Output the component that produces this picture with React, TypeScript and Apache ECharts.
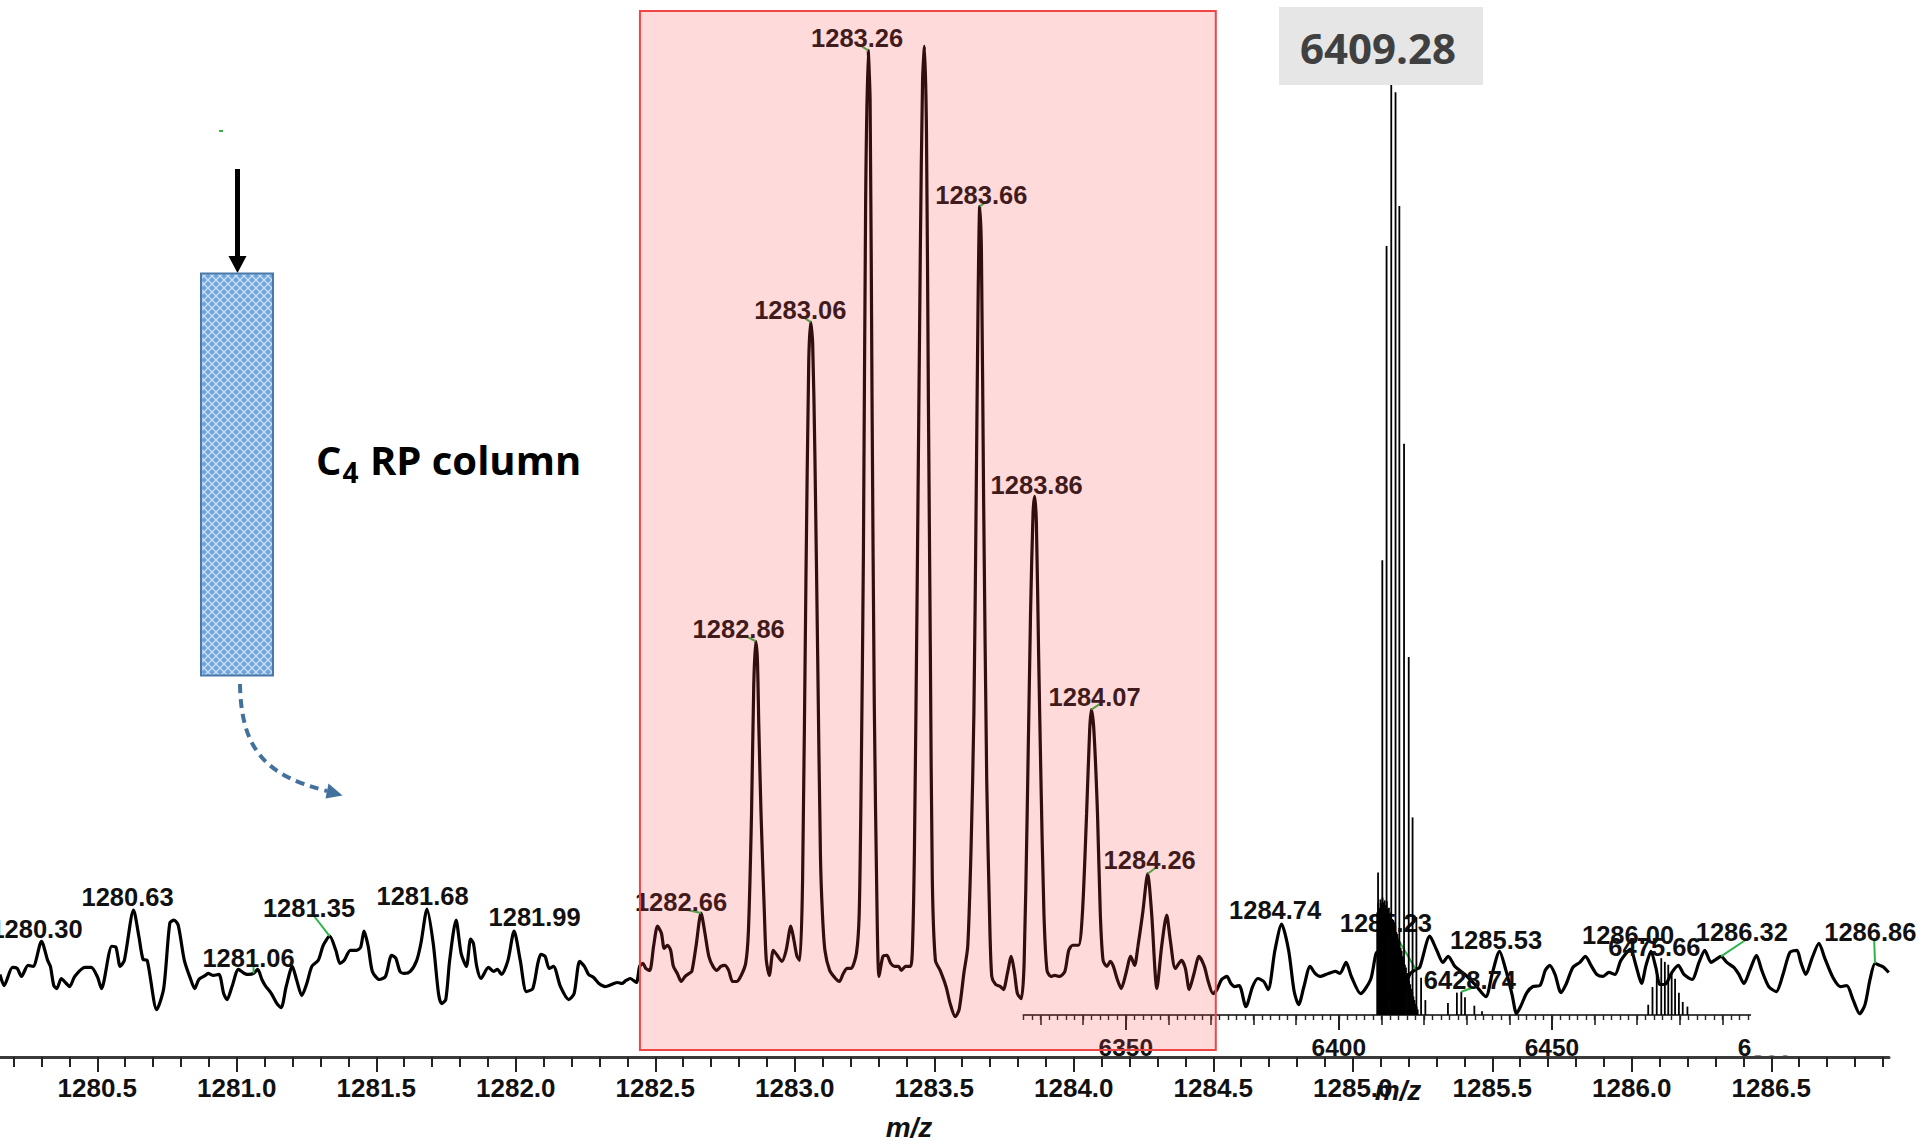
import React, { useEffect, useRef } from 'react';
import * as echarts from 'echarts';

// ---------- Main profile spectrum: [m/z, relative intensity %] ----------
const profileLeft: [number, number][] = [
  [1280.151, 8.2], [1280.166, 7.1], [1280.196, 8.9], [1280.213, 8.8], [1280.228, 8.0], [1280.252, 9.1], [1280.270, 9.0],
  [1280.300, 11.5], [1280.322, 9.6], [1280.332, 9.0], [1280.344, 7.1], [1280.355, 6.8], [1280.371, 7.8], [1280.389, 7.3],
  [1280.401, 7.0], [1280.419, 8.0], [1280.456, 8.9], [1280.478, 8.9], [1280.500, 8.0], [1280.515, 6.8], [1280.552, 11.0],
  [1280.567, 10.9], [1280.582, 9.0], [1280.597, 9.6], [1280.630, 14.6], [1280.649, 12.0], [1280.664, 9.7], [1280.679, 9.6],
  [1280.713, 4.7], [1280.738, 6.8], [1280.760, 13.3], [1280.775, 13.6], [1280.790, 13.1], [1280.812, 9.6], [1280.835, 7.7],
  [1280.849, 6.8], [1280.864, 7.7], [1280.887, 8.1], [1280.897, 8.3], [1280.916, 8.1], [1280.936, 8.2], [1280.953, 6.3],
  [1280.965, 5.7], [1280.983, 7.0], [1281.006, 8.7], [1281.028, 8.3], [1281.043, 8.2], [1281.060, 8.3], [1281.075, 8.7],
  [1281.090, 7.7], [1281.102, 7.1], [1281.124, 6.3], [1281.144, 5.3], [1281.159, 4.9], [1281.177, 7.0], [1281.199, 9.0],
  [1281.214, 7.7], [1281.233, 6.1], [1281.251, 7.3], [1281.269, 9.0], [1281.292, 9.6], [1281.310, 11.1], [1281.333, 12.0],
  [1281.355, 10.6], [1281.370, 9.3], [1281.385, 9.6], [1281.407, 10.6], [1281.429, 10.6], [1281.444, 10.9], [1281.456, 12.5],
  [1281.471, 11.0], [1281.486, 8.5], [1281.511, 7.7], [1281.533, 8.0], [1281.555, 10.1], [1281.570, 9.8], [1281.585, 8.5],
  [1281.600, 8.3], [1281.622, 8.5], [1281.645, 9.6], [1281.660, 11.3], [1281.682, 14.7], [1281.704, 11.3], [1281.723, 6.3],
  [1281.734, 5.3], [1281.749, 5.7], [1281.763, 9.6], [1281.786, 13.6], [1281.804, 10.3], [1281.823, 9.0], [1281.838, 11.7],
  [1281.848, 11.3], [1281.860, 9.0], [1281.875, 7.8], [1281.902, 8.9], [1281.920, 8.5], [1281.934, 8.7], [1281.949, 8.2],
  [1281.972, 9.6], [1281.994, 12.5], [1282.016, 9.6], [1282.038, 6.5], [1282.061, 6.8], [1282.079, 9.3], [1282.090, 10.2],
  [1282.105, 10.0], [1282.120, 8.8], [1282.135, 9.0], [1282.160, 7.0], [1282.190, 5.7], [1282.209, 6.3], [1282.229, 9.5],
  [1282.246, 9.0], [1282.261, 8.2], [1282.279, 7.9], [1282.298, 7.3], [1282.321, 7.0], [1282.343, 7.2], [1282.365, 7.4],
  [1282.380, 7.3], [1282.395, 7.6], [1282.410, 7.8], [1282.432, 7.4],
];

const profileCluster: [number, number][] = [
  [1282.444, 9.0], [1282.456, 9.3], [1282.466, 8.8], [1282.480, 8.6], [1282.494, 11.0], [1282.508, 13.0], [1282.522, 12.3],
  [1282.532, 10.8], [1282.544, 11.1], [1282.555, 10.6], [1282.565, 9.0], [1282.579, 8.3], [1282.593, 7.5], [1282.607, 8.0],
  [1282.621, 8.3], [1282.631, 8.5], [1282.646, 11.0], [1282.664, 14.3], [1282.678, 12.3], [1282.692, 10.0], [1282.707, 9.0],
  [1282.721, 8.6], [1282.735, 9.0], [1282.749, 9.1], [1282.763, 8.6], [1282.777, 7.5], [1282.791, 7.5], [1282.806, 8.0],
  [1282.824, 9.3], [1282.834, 12.6], [1282.845, 24.2], [1282.853, 37.0], [1282.860, 41.3], [1282.866, 39.5], [1282.871, 33.0],
  [1282.879, 24.2], [1282.891, 14.3], [1282.898, 9.6], [1282.909, 8.1], [1282.923, 10.6], [1282.937, 10.1], [1282.954, 9.5],
  [1282.969, 10.6], [1282.986, 13.0], [1282.997, 11.6], [1283.008, 10.0], [1283.018, 9.6], [1283.028, 17.6], [1283.040, 47.4],
  [1283.050, 69.0], [1283.057, 73.0], [1283.064, 71.0], [1283.072, 60.0], [1283.082, 40.0], [1283.092, 20.0], [1283.099, 14.3],
  [1283.108, 10.6], [1283.125, 8.6], [1283.146, 7.8], [1283.160, 7.5], [1283.174, 8.3], [1283.188, 8.8], [1283.202, 8.8],
  [1283.221, 10.3], [1283.231, 14.3], [1283.238, 27.5], [1283.246, 50.0], [1283.254, 85.0], [1283.263, 100.0], [1283.270, 95.0],
  [1283.277, 65.0], [1283.285, 35.0], [1283.295, 14.3], [1283.302, 8.0], [1283.316, 10.0], [1283.330, 10.1], [1283.344, 9.3],
  [1283.358, 9.0], [1283.372, 9.0], [1283.382, 8.6], [1283.397, 9.0], [1283.415, 9.0], [1283.422, 11.0], [1283.429, 20.9],
  [1283.439, 47.4], [1283.450, 80.0], [1283.458, 97.0], [1283.465, 100.4], [1283.472, 92.0], [1283.479, 65.0], [1283.486, 40.0],
  [1283.493, 17.6], [1283.504, 9.6], [1283.521, 8.6], [1283.542, 7.0], [1283.557, 5.3], [1283.575, 4.0], [1283.589, 4.7],
  [1283.606, 8.3], [1283.620, 11.0], [1283.632, 20.9], [1283.642, 34.1], [1283.650, 55.0], [1283.657, 75.0], [1283.663, 84.5],
  [1283.669, 80.0], [1283.677, 55.0], [1283.688, 27.5], [1283.698, 14.3], [1283.706, 8.0], [1283.720, 7.2], [1283.737, 7.0],
  [1283.748, 6.7], [1283.762, 8.3], [1283.776, 10.0], [1283.788, 8.3], [1283.798, 6.3], [1283.812, 5.8], [1283.822, 9.3],
  [1283.833, 24.2], [1283.845, 44.0], [1283.854, 54.0], [1283.860, 55.7], [1283.866, 53.0], [1283.874, 40.0], [1283.882, 28.0],
  [1283.893, 14.3], [1283.904, 8.6], [1283.918, 8.0], [1283.932, 8.1], [1283.949, 8.0], [1283.968, 8.5], [1283.982, 10.6],
  [1283.996, 11.1], [1284.017, 11.1], [1284.031, 14.3], [1284.046, 24.2], [1284.057, 32.5], [1284.063, 34.5], [1284.072, 32.5],
  [1284.085, 24.2], [1284.095, 14.3], [1284.105, 9.6], [1284.119, 9.0], [1284.131, 9.5], [1284.142, 9.0], [1284.156, 7.7],
  [1284.170, 6.8], [1284.187, 8.3], [1284.204, 10.0], [1284.218, 9.1], [1284.230, 11.0], [1284.247, 14.3], [1284.265, 18.2],
  [1284.279, 14.3], [1284.298, 6.8], [1284.315, 11.0], [1284.333, 14.1], [1284.346, 11.6], [1284.364, 8.8], [1284.386, 9.6],
  [1284.400, 8.8], [1284.414, 6.7], [1284.431, 8.3], [1284.449, 10.0], [1284.468, 9.0], [1284.482, 7.5], [1284.499, 6.3],
  [1284.513, 6.7], [1284.530, 7.7], [1284.549, 8.0], [1284.563, 7.3], [1284.577, 7.0],
];

const profileRight: [number, number][] = [
  [1284.593, 7.1], [1284.617, 5.0], [1284.641, 7.0], [1284.660, 7.8], [1284.681, 7.5], [1284.697, 6.7], [1284.721, 10.6],
  [1284.745, 13.2], [1284.770, 10.6], [1284.790, 6.5], [1284.806, 5.2], [1284.825, 7.0], [1284.847, 9.0], [1284.865, 8.3],
  [1284.883, 8.0], [1284.913, 8.3], [1284.938, 8.5], [1284.954, 8.3], [1284.976, 9.4], [1284.995, 8.0], [1285.028, 6.3],
  [1285.064, 7.7], [1285.086, 10.4], [1285.097, 9.6], [1285.119, 6.7], [1285.151, 5.4], [1285.179, 6.2], [1285.204, 8.2],
  [1285.226, 8.7], [1285.240, 8.9], [1285.276, 12.0], [1285.301, 10.6], [1285.323, 9.4], [1285.342, 10.0], [1285.366, 9.0],
  [1285.402, 8.2], [1285.438, 7.2], [1285.477, 6.0], [1285.499, 8.2], [1285.526, 10.5], [1285.549, 8.6], [1285.571, 6.2],
  [1285.587, 4.3], [1285.603, 5.1], [1285.624, 6.4], [1285.646, 7.0], [1285.671, 7.1], [1285.690, 8.6], [1285.706, 9.1],
  [1285.725, 8.2], [1285.746, 6.4], [1285.764, 7.2], [1285.789, 8.9], [1285.814, 9.4], [1285.834, 10.0], [1285.854, 9.1],
  [1285.875, 8.2], [1285.897, 8.0], [1285.918, 8.4], [1285.940, 8.2], [1285.961, 9.6], [1285.995, 10.7], [1286.015, 9.1],
  [1286.035, 7.3], [1286.051, 9.1], [1286.069, 10.5], [1286.087, 8.8], [1286.101, 7.2], [1286.123, 7.3], [1286.144, 8.4],
  [1286.167, 9.1], [1286.187, 8.2], [1286.216, 7.7], [1286.241, 9.4], [1286.262, 10.6], [1286.284, 9.4], [1286.302, 9.7],
  [1286.320, 10.0], [1286.341, 9.4], [1286.366, 8.9], [1286.384, 8.2], [1286.402, 7.3], [1286.423, 8.6], [1286.447, 10.1],
  [1286.466, 8.6], [1286.491, 7.0], [1286.518, 6.5], [1286.542, 8.2], [1286.567, 10.4], [1286.592, 10.6], [1286.606, 9.4],
  [1286.624, 8.2], [1286.646, 9.8], [1286.671, 11.3], [1286.692, 9.8], [1286.721, 7.9], [1286.748, 7.0], [1286.771, 7.1],
  [1286.793, 5.7], [1286.817, 4.3], [1286.836, 5.2], [1286.854, 7.7], [1286.872, 9.3], [1286.889, 9.1], [1286.904, 8.9],
  [1286.921, 8.4],
];

// ---------- Inset (deconvoluted) stick spectrum: [mass, relative intensity %] ----------
const isotopeSticks: [number, number][] = [
  [6409.2, 15.3], [6410.2, 48.8], [6411.2, 82.5], [6412.3, 100.0], [6413.3, 99.0], [6414.2, 86.8],
  [6415.3, 61.3], [6416.4, 38.4], [6417.3, 21.2], [6418.2, 10.5], [6419.3, 4.0], [6420.3, 1.6],
];
const isotopeFill: [number, number][] = [
  [6409.0, 11.0], [6409.25, 12.0], [6409.5, 11.5], [6409.75, 12.4], [6410.0, 12.0], [6410.25, 12.6], [6410.5, 12.1],
  [6410.75, 12.3], [6411.0, 11.8], [6411.25, 12.2], [6411.5, 11.4], [6411.75, 11.5], [6412.0, 10.9], [6412.25, 11.0],
  [6412.5, 10.3], [6412.75, 10.2], [6413.0, 9.6], [6413.25, 9.6], [6413.5, 8.9], [6413.75, 8.7], [6414.0, 8.1],
  [6414.25, 7.9], [6414.5, 7.2], [6414.75, 6.9], [6415.0, 6.3], [6415.25, 6.0], [6415.5, 5.4], [6415.75, 5.1],
  [6416.0, 4.5], [6416.25, 4.2], [6416.5, 3.7], [6416.75, 3.3], [6417.0, 2.8], [6417.25, 2.5], [6417.5, 2.0],
  [6417.75, 1.6], [6418.0, 1.2], [6418.25, 0.9], [6418.5, 0.6],
];
const satelliteSticks: [number, number][] = [
  [6425.6, 1.3], [6427.7, 2.4], [6428.74, 2.5], [6429.6, 1.9], [6431.8, 1.0], [6433.6, 0.4],
];
const adductSticks: [number, number][] = [
  [6472.6, 1.1], [6473.6, 3.0], [6474.6, 4.2], [6475.66, 6.1], [6476.5, 5.7], [6477.3, 5.4],
  [6478.1, 4.5], [6478.9, 3.9], [6479.8, 2.4], [6480.7, 1.4], [6481.8, 0.9],
];

// ---------- Axis ticks ----------
const mainTickLabels = [1280.5, 1281.0, 1281.5, 1282.0, 1282.5, 1283.0, 1283.5, 1284.0, 1284.5, 1285.0, 1285.5, 1286.0, 1286.5];
const insetTickLabels = [6350, 6400, 6450, 6500];

// ---------- Peak annotations ----------
const peakText = ['1280.30', '1280.63', '1281.06', '1281.35', '1281.68', '1281.99', '1282.66', '1282.86', '1283.06', '1283.26',
  '1283.66', '1283.86', '1284.07', '1284.26', '1284.74', '1285.23', '1285.53', '1286.00', '1286.32', '1286.86'];
const peakMz = [1280.300, 1280.630, 1281.060, 1281.333, 1281.682, 1281.994, 1282.664, 1282.860, 1283.057, 1283.263,
  1283.663, 1283.860, 1284.063, 1284.265, 1284.745, 1285.226, 1285.526, 1285.995, 1286.320, 1286.872];
const peakIntensity = [11.5, 14.6, 8.3, 12.0, 14.7, 12.5, 14.3, 41.3, 73.0, 100.0,
  84.5, 55.7, 34.5, 18.2, 13.2, 8.7, 10.5, 10.7, 10.0, 9.3];

const insetText = ['6428.74', '6475.66'];
const insetMz = [6428.74, 6475.66];
const insetIntensity = [2.5, 6.1];

const deconvolutedMass = '6409.28';
const columnCaption = ['C', '4', ' RP column'];

// label layout, px: [dx, dy, leaderDx, leaderDy] (null leader = none)
const peakLabelLayout: [number, number, number | null, number | null][] = [
  [-5, -12, null, null], [-6, -13, null, null], [-5, -15, 0, -8], [-20.7, -28.6, -15.7, -20.2],
  [-4.5, -13, null, null], [20.5, -13.7, null, null], [-20, -11, -16, -3.5], [-17, -12.7, -11, -5.7],
  [-10.4, -12.3, -5.6, -3.7], [-11, -12, -6.3, -4], [1.6, -11.7, 7.2, -5], [2, -11, null, null],
  [3.3, -13, 9, -6], [2, -14, 8, -6], [-6.5, -14, null, null], [-30, -46.7, -18.5, -31.4],
  [-3.5, -11.7, null, null], [-2.3, -14.3, null, null], [20.8, -24.6, 24.5, -16.3], [-4.7, -31.7, -1, -25.4],
];
const insetLabelLayout: [number, number, number | null, number | null][] = [
  [8.6, -11.7, 14, -5], [-6.8, -11.4, null, null],
];

const LABEL_FONT = 'bold 25.5px "Liberation Sans", Arial, sans-serif';
const LEADER = '#2DB54A';

function labelRenderer(texts: string[], layout: [number, number, number | null, number | null][]) {
  return (_params: any, api: any) => {
    const i = api.value(2);
    const p = api.coord([api.value(0), api.value(1)]);
    const [dx, dy, lx, ly] = layout[i];
    const children: any[] = [];
    if (lx !== null && ly !== null) {
      children.push({
        type: 'line',
        shape: { x1: p[0], y1: p[1], x2: p[0] + lx, y2: p[1] + ly },
        style: { stroke: LEADER, lineWidth: 2 },
      });
    }
    children.push({
      type: 'text',
      x: p[0] + dx,
      y: p[1] + dy,
      style: {
        text: texts[i], fill: '#111', font: LABEL_FONT,
        align: 'center', verticalAlign: 'middle', textAlign: 'center', textVerticalAlign: 'middle',
      },
    });
    return { type: 'group', children };
  };
}

export default function App() {
  const ref = useRef<HTMLDivElement>(null);
  useEffect(() => {
    if (!ref.current) return;
    const chart = echarts.init(ref.current, null, { renderer: 'svg' });

    const mainMinor: number[] = [];
    for (let k = 12802; k <= 12869; k++) mainMinor.push(k / 10);
    const insetMid: number[] = [];
    for (let v = 6330; v <= 6510; v += 10) insetMid.push(v);
    const insetMinor: number[] = [];
    for (let v = 6326; v <= 6510; v += 2) insetMinor.push(v);

    const ctx = document.createElement('canvas').getContext('2d')!;
    const capFont = 'bold 40px "Open Sans", sans-serif';
    const subFont = 'bold 28px "Open Sans", sans-serif';
    ctx.font = capFont;
    const wC = ctx.measureText(columnCaption[0]).width;
    ctx.font = subFont;
    const w4 = ctx.measureText(columnCaption[1]).width;
    const capX = 316;

    const tile = '<svg xmlns="http://www.w3.org/2000/svg" width="8" height="8"><rect width="8" height="8" fill="#6FA5DF"/><path d="M0 0L8 8M8 0L0 8" stroke="#ffffff" stroke-width="1.3" stroke-opacity="0.65"/></svg>';
    const patternUrl = 'data:image/svg+xml;charset=utf-8,' + encodeURIComponent(tile);

    const tickFont = { fontFamily: '"Liberation Sans", Arial, sans-serif', fontWeight: 'bold' as const, color: '#111' };

    const option: any = {
      animation: false,
      backgroundColor: '#ffffff',
      grid: [
        { left: 0, right: 31, top: 0, bottom: 84, containLabel: false, outerBoundsMode: 'none' },
        { left: 1023.5, right: 112.4, top: 83, bottom: 126, containLabel: false, outerBoundsMode: 'none' },
      ],
      xAxis: [
        {
          gridIndex: 0, type: 'value', min: 1280.1513, max: 1286.922, position: 'bottom',
          axisLine: { show: true, onZero: false, lineStyle: { color: '#3a3a3a', width: 3 } },
          axisTick: { show: true, customValues: mainTickLabels, length: 15, lineStyle: { color: '#222', width: 2 } },
          axisLabel: { show: true, customValues: mainTickLabels, formatter: (v: number) => v.toFixed(1), fontSize: 26, margin: 18, ...tickFont },
          splitLine: { show: false },
        },
        {
          gridIndex: 0, type: 'value', min: 1280.1513, max: 1286.922, position: 'bottom',
          axisLine: { show: false, onZero: false },
          axisTick: { show: true, customValues: mainMinor, length: 10, lineStyle: { color: '#222', width: 2 } },
          axisLabel: { show: false },
          splitLine: { show: false },
        },
        {
          gridIndex: 1, type: 'value', min: 6326, max: 6510, position: 'bottom',
          axisLine: { show: true, onZero: false, lineStyle: { color: '#444', width: 2 } },
          axisTick: { show: true, customValues: insetTickLabels, length: 15, lineStyle: { color: '#222', width: 2 } },
          axisLabel: { show: true, customValues: insetTickLabels, formatter: (v: number) => String(v), fontSize: 24.5, margin: 20, ...tickFont },
          splitLine: { show: false },
        },
        {
          gridIndex: 1, type: 'value', min: 6326, max: 6510, position: 'bottom',
          axisLine: { show: false, onZero: false },
          axisTick: { show: true, customValues: insetMid, length: 10, lineStyle: { color: '#222', width: 1.6 } },
          axisLabel: { show: false },
          splitLine: { show: false },
        },
        {
          gridIndex: 1, type: 'value', min: 6326, max: 6510, position: 'bottom',
          axisLine: { show: false, onZero: false },
          axisTick: { show: true, customValues: insetMinor, length: 5, lineStyle: { color: '#222', width: 1.4 } },
          axisLabel: { show: false },
          splitLine: { show: false },
        },
      ],
      yAxis: [
        { gridIndex: 0, type: 'value', min: 0, max: 105, show: false, splitLine: { show: false } },
        { gridIndex: 1, type: 'value', min: 0, max: 100, show: false, splitLine: { show: false } },
      ],
      series: [
        {
          name: 'deconvoluted', type: 'bar', xAxisIndex: 2, yAxisIndex: 1, barWidth: 1.8, z: 5, silent: true,
          itemStyle: { color: '#000' },
          data: [...isotopeFill, ...isotopeSticks, ...satelliteSticks, ...adductSticks],
        },
        {
          name: 'profile', type: 'line', xAxisIndex: 0, yAxisIndex: 0, z: 3, silent: true,
          showSymbol: false, symbol: 'none', smooth: 0.25,
          lineStyle: { color: '#000', width: 3.2 },
          data: [...profileLeft, ...profileCluster, ...profileRight],
        },
        {
          name: 'peakLabels', type: 'custom', xAxisIndex: 0, yAxisIndex: 0, z: 4, silent: true,
          renderItem: labelRenderer(peakText, peakLabelLayout),
          data: peakMz.map((m, i) => [m, peakIntensity[i], i]),
        },
        {
          name: 'insetLabels', type: 'custom', xAxisIndex: 2, yAxisIndex: 1, z: 6, silent: true,
          renderItem: labelRenderer(insetText, insetLabelLayout),
          data: insetMz.map((m, i) => [m, insetIntensity[i], i]),
        },
        {
          name: 'isotopeWindow', type: 'custom', xAxisIndex: 0, yAxisIndex: 0, z: 20, silent: true,
          renderItem: (_p: any, api: any) => {
            const a = api.coord([api.value(0), api.value(3)]);
            const b = api.coord([api.value(2), api.value(1)]);
            return {
              type: 'rect',
              shape: { x: a[0], y: a[1], width: b[0] - a[0], height: b[1] - a[1] },
              style: { fill: 'rgba(255,70,75,0.2)', stroke: '#EE4545', lineWidth: 2 },
            };
          },
          data: [[1282.445, 0.7, 1284.509, 103.9]],
        },
      ],
      graphic: [
        // mask for the clipped inset axis end
        { type: 'rect', z: 100, shape: { x: 1751, y: 1004, width: 70, height: 51.5 }, style: { fill: '#ffffff' } },
        // deconvoluted mass box
        { type: 'rect', z: 100, shape: { x: 1279, y: 7, width: 204, height: 78 }, style: { fill: '#E6E6E6' } },
        {
          type: 'text', z: 101, x: 1378, y: 47,
          style: { text: deconvolutedMass, fill: '#404040', font: 'bold 42px "Open Sans", sans-serif', align: 'center', verticalAlign: 'middle', textAlign: 'center', textVerticalAlign: 'middle' },
        },
        // axis names
        {
          type: 'text', z: 100, x: 909, y: 1127,
          style: { text: 'm/z', fill: '#111', font: 'italic bold 28px "Liberation Sans", Arial, sans-serif', align: 'center', verticalAlign: 'middle', textAlign: 'center', textVerticalAlign: 'middle' },
        },
        {
          type: 'text', z: 100, x: 1398, y: 1090,
          style: { text: 'm/z', fill: '#111', font: 'italic bold 28px "Liberation Sans", Arial, sans-serif', align: 'center', verticalAlign: 'middle', textAlign: 'center', textVerticalAlign: 'middle' },
        },
        // column scheme
        { type: 'line', z: 5, shape: { x1: 219, y1: 131, x2: 223, y2: 131 }, style: { stroke: LEADER, lineWidth: 2 } },
        { type: 'line', z: 5, shape: { x1: 237.5, y1: 169, x2: 237.5, y2: 259 }, style: { stroke: '#000', lineWidth: 5 } },
        { type: 'polygon', z: 5, shape: { points: [[228.5, 256], [246.5, 256], [237.5, 273]] }, style: { fill: '#000' } },
        { type: 'rect', z: 5, shape: { x: 201, y: 273.5, width: 72, height: 402 }, style: { fill: '#76A8DE' } },
        {
          type: 'rect', z: 6, shape: { x: 201, y: 273.5, width: 72, height: 402 },
          style: { fill: { image: patternUrl, repeat: 'repeat', imageWidth: 8, imageHeight: 8 }, stroke: '#4A78A8', lineWidth: 2 },
        },
        {
          type: 'bezierCurve', z: 5,
          shape: { x1: 240, y1: 684, cpx1: 241, cpy1: 752, cpx2: 268, cpy2: 776, x2: 327, y2: 791 },
          style: { stroke: '#41719C', lineWidth: 4, lineDash: [9, 6], fill: null },
        },
        { type: 'polygon', z: 5, shape: { points: [[342.5, 795.5], [325.5, 798.5], [328.5, 783.5]] }, style: { fill: '#41719C' } },
        {
          type: 'text', z: 5, x: capX, y: 459,
          style: { text: columnCaption[0], fill: '#000', font: capFont, align: 'left', verticalAlign: 'middle', textAlign: 'left', textVerticalAlign: 'middle' },
        },
        {
          type: 'text', z: 5, x: capX + wC + 1, y: 472,
          style: { text: columnCaption[1], fill: '#000', font: subFont, align: 'left', verticalAlign: 'middle', textAlign: 'left', textVerticalAlign: 'middle' },
        },
        {
          type: 'text', z: 5, x: capX + wC + w4 + 2, y: 459,
          style: { text: columnCaption[2], fill: '#000', font: capFont, align: 'left', verticalAlign: 'middle', textAlign: 'left', textVerticalAlign: 'middle' },
        },
      ],
    };

    chart.setOption(option);
    return () => chart.dispose();
  }, []);

  return (
    <div
      ref={ref}
      style={{ position: 'fixed', left: 0, top: 0, width: 1920, height: 1141, background: '#ffffff' }}
    />
  );
}
